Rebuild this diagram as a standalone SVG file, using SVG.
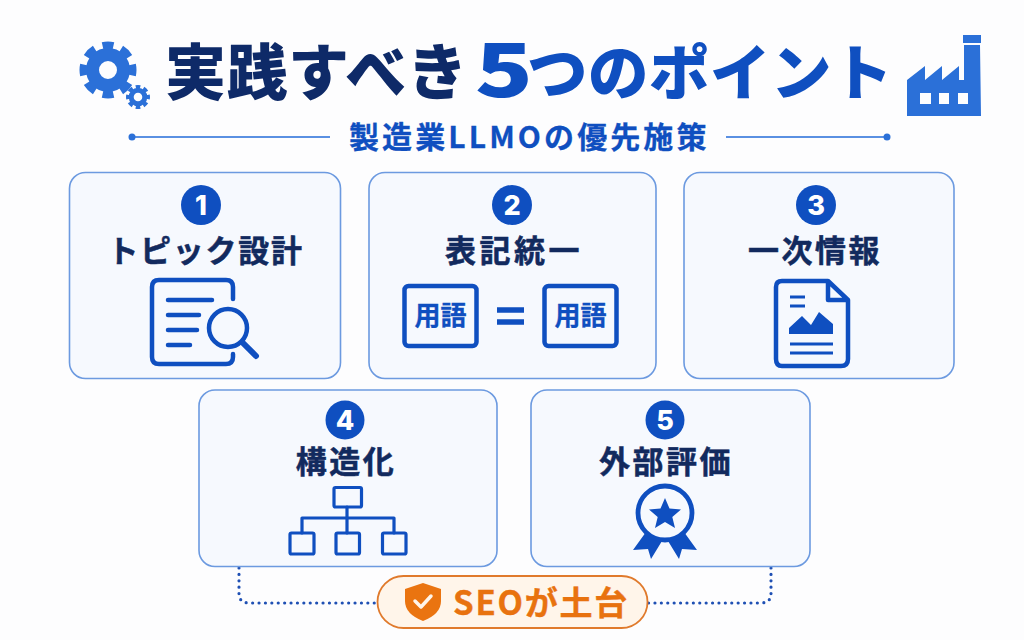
<svg xmlns="http://www.w3.org/2000/svg" width="1024" height="640" viewBox="0 0 1024 640">
<style>
text{font-family:"Noto Sans CJK JP","Noto Sans",sans-serif}
.card{fill:#f6f9fe;stroke:#6c9ae0;stroke-width:1.6}
.badge{fill:#0f4fc0}
.num{fill:#fff;font-family:"Inter","Liberation Sans",sans-serif;font-weight:800;font-size:27px;text-anchor:middle}
.label{fill:#122a5e;stroke:#122a5e;stroke-width:.5;font-weight:700;font-size:31px;text-anchor:middle;letter-spacing:2.5px}
.ic{fill:none;stroke:#0f4fc0;stroke-width:4.5;stroke-linecap:round;stroke-linejoin:round}
.thin{stroke-width:3.2}
.fillb{fill:#0f4fc0}
.term{fill:#0f4fc0;stroke:#0f4fc0;stroke-width:.3;font-weight:700;font-size:26px;text-anchor:middle}
.deco{fill:#2b70d8}
.rule{stroke:#5a90e2;stroke-width:1.8}
</style>
<rect width="1024" height="640" fill="#fdfdfe"/>

<g id="header">
  <g id="gear-icon">
    <circle cx="108" cy="70" r="15.500" fill="none" stroke="#2b70d8" stroke-width="13"/>
    <circle cx="108" cy="70" r="24.500" fill="none" stroke="#2b70d8" stroke-width="8" pathLength="16" stroke-dasharray="1.150 .85" stroke-dashoffset=".575"/>
    <circle cx="138" cy="97" r="6.800" fill="none" stroke="#2b70d8" stroke-width="5"/>
    <circle cx="138" cy="97" r="10.200" fill="none" stroke="#2b70d8" stroke-width="3.600" pathLength="16" stroke-dasharray="1.150 .85" stroke-dashoffset=".575"/>
  </g>
  <text id="title" x="165" y="95" font-size="61" font-weight="900" fill="#0e2a68" letter-spacing="0.5">実践すべき</text>
  <text x="475" y="97" font-size="74" font-weight="900" fill="#0f4fc0" font-family="Inter,'Liberation Sans',sans-serif" textLength="58" lengthAdjust="spacingAndGlyphs">5</text>
  <text x="527" y="95" font-size="60.500" font-weight="900" fill="#0f4fc0" letter-spacing="0.5">つのポイント</text>
  <g id="factory-icon">
    <rect class="deco" x="963" y="35" width="18" height="8"/>
    <path class="deco" fill-rule="evenodd" d="M907 80L925 66V80L942 66V80L959 66V80H964V45H980L981 116H907ZM920 93V104H931V93ZM939 93V104H949V93ZM958 93V104H968V93Z"/>
  </g>
  <g id="subtitle">
    <line class="rule" x1="132" y1="137" x2="330" y2="137"/>
    <circle class="deco" cx="132" cy="137" r="3.500"/>
    <text x="349" y="148" font-size="30" font-weight="700" fill="#0f4fc0" stroke="#0f4fc0" stroke-width=".3" letter-spacing="3.100">製造業LLMOの優先施策</text>
    <line class="rule" x1="726" y1="137" x2="887" y2="137"/>
    <circle class="deco" cx="887" cy="137" r="3.500"/>
  </g>
</g>

<g id="connectors">
  <path d="M239 568V594Q239 603 250 603H378M771 568V594Q771 603 760 603H646" fill="none" stroke="#1f50b4" stroke-width="3.200" stroke-linecap="round" stroke-dasharray="0 6.400"/>
</g>

<g id="node-1">
  <rect class="card" x="69.500" y="172.500" width="271" height="206" rx="16"/>
  <circle class="badge" cx="201" cy="205" r="20"/>
  <text class="num" x="201" y="215">1</text>
  <text class="label" x="205.500" y="262" style="letter-spacing:1.700px">トピック設計</text>
  <path class="ic" d="M233 299V287Q233 280 226 280H159Q152 280 152 287V357Q152 364 159 364H226Q233 364 233 357V354"/>
  <path class="ic" d="M168 300H212M168 315H199M168 330H197M168 345H190"/>
  <circle class="ic" cx="228" cy="328" r="19"/>
  <path class="ic" style="stroke-width:6" d="M243 343L256 356"/>
</g>

<g id="node-2">
  <rect class="card" x="369" y="172.500" width="287" height="206" rx="16"/>
  <circle class="badge" cx="512" cy="205" r="20"/>
  <text class="num" x="512" y="215">2</text>
  <text class="label" x="514" y="262" style="letter-spacing:3.500px">表記統一</text>
  <rect class="ic" x="404.500" y="286" width="72" height="60" rx="4"/>
  <text class="term" x="440.500" y="325">用語</text>
  <path class="ic" style="stroke-linecap:butt;stroke-width:5.500" d="M497 310H524M497 322H524"/>
  <rect class="ic" x="544.500" y="286" width="72" height="60" rx="4"/>
  <text class="term" x="580.500" y="325">用語</text>
</g>

<g id="node-3">
  <rect class="card" x="684" y="172.500" width="270" height="206" rx="16"/>
  <circle class="badge" cx="816" cy="205" r="20"/>
  <text class="num" x="816" y="215">3</text>
  <text class="label" x="815" y="262">一次情報</text>
  <path class="ic" d="M828 281H782Q776 281 776 287V359Q776 366 782 366H841Q848 366 848 359V300ZM828 281V300H848"/>
  <path class="ic thin" style="stroke-linecap:butt" d="M790 297H805M790 306H805M790 344H833M790 353H833"/>
  <path class="fillb" d="M789 334V328L802 316L811 325L819 312L833 324V334Z"/>
</g>

<g id="node-4">
  <rect class="card" x="199" y="390" width="298" height="176.500" rx="16"/>
  <circle class="badge" cx="345" cy="420" r="19.500"/>
  <text class="num" x="345" y="430">4</text>
  <text class="label" x="346" y="473">構造化</text>
  <path class="ic thin" d="M347 507V533M302 533V518H394V533"/>
  <rect class="ic thin" x="334" y="487.500" width="27.500" height="19.500" rx="1.500"/>
  <rect class="ic thin" x="290" y="533" width="24" height="21" rx="1.500"/>
  <rect class="ic thin" x="336" y="533" width="23.500" height="21" rx="1.500"/>
  <rect class="ic thin" x="382.500" y="533" width="23.500" height="21" rx="1.500"/>
</g>

<g id="node-5">
  <rect class="card" x="531" y="390" width="279" height="176.500" rx="16"/>
  <circle class="badge" cx="665" cy="420" r="19.500"/>
  <text class="num" x="665" y="430">5</text>
  <text class="label" x="666" y="473">外部評価</text>
  <path class="fillb" d="M646 532L633 550L648 549L651 559L662 541ZM684 532L697 550L682 549L679 559L668 541Z"/>
  <circle cx="665" cy="513" r="27" fill="#f6f9fe" stroke="#0f4fc0" stroke-width="4.800"/>
  <path class="fillb" d="M665 498L669.500 508.500L681 509.500L672.300 517L675 528L665 522L655 528L657.700 517L649 509.500L660.500 508.500Z"/>
</g>

<g id="foundation">
  <rect x="377.500" y="576" width="270" height="52" rx="26" fill="#fff5ea" stroke="#e07a2c" stroke-width="1.800"/>
  <path d="M423 583L441 589V601Q441 614 423 621Q405 614 405 601V589Z" fill="#ea7410"/>
  <path d="M415 601L421 607L431 596" fill="none" stroke="#fff5ea" stroke-width="3.500" stroke-linecap="round" stroke-linejoin="round"/>
  <text x="453" y="615" font-size="33" font-weight="700" fill="#e8720f" stroke="#e8720f" stroke-width=".4" letter-spacing="1.800">SEOが土台</text>
</g>
</svg>
